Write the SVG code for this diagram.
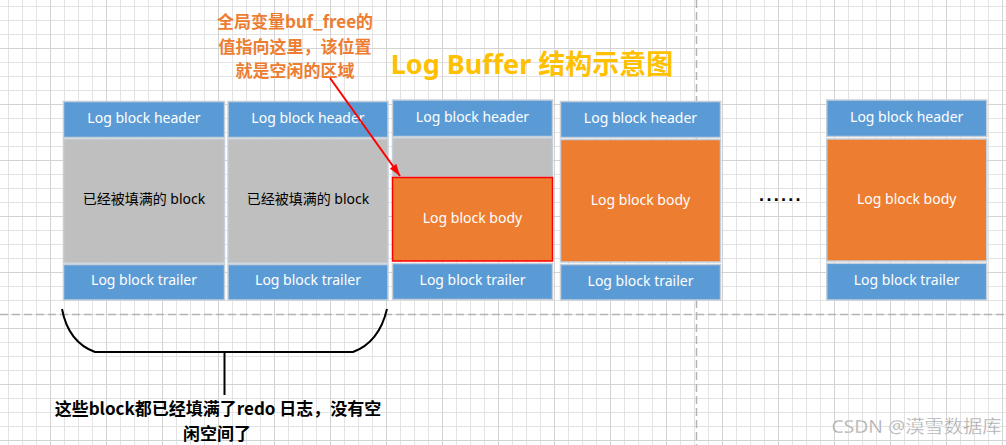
<svg xmlns="http://www.w3.org/2000/svg" width="1006" height="445" viewBox="0 0 1006 445">
<style>
.hdr{fill:#5b9bd5;stroke:#c6cfd9;stroke-width:1.5}
.gray{fill:#bfbfbf;stroke:#c6cfd9;stroke-width:1.5}
.org{fill:#ed7d31;stroke:#c6cfd9;stroke-width:1.5}
.lbl{font-family:"Noto Sans","Noto Sans CJK SC",sans-serif;font-size:14px;fill:#ffffff;text-anchor:middle}
.blk{font-family:"Noto Sans","Noto Sans CJK SC",sans-serif;font-size:14px;fill:#000000;text-anchor:middle}
.note{font-family:"Noto Sans CJK SC","Noto Sans",sans-serif;font-size:17px;font-weight:bold;fill:#ed7d31;text-anchor:middle}
.cap{font-family:"Noto Sans CJK SC","Noto Sans",sans-serif;font-size:17px;font-weight:bold;fill:#000000;text-anchor:middle}
.dash{stroke:#b4b4b4;stroke-width:1.5;stroke-dasharray:8 4;fill:none}
</style>
<defs>
<pattern id="minor" width="14" height="14" patternUnits="userSpaceOnUse" x="8" y="6">
<path d="M0.5 0V14M0 0.5H14" stroke="#e3e3e3" stroke-width="1" fill="none"/>
</pattern>
<pattern id="major" width="56" height="56" patternUnits="userSpaceOnUse" x="50" y="48">
<path d="M0.5 0V56M0 0.5H56" stroke="#d3d3d3" stroke-width="1" fill="none"/>
</pattern>
<marker id="arrow" viewBox="0 0 12 8" markerWidth="12" markerHeight="8" refX="12" refY="4" orient="auto" markerUnits="userSpaceOnUse">
<path d="M0 0L12 4L0 8z" fill="#ff0000"/>
</marker>
</defs>
<rect width="1006" height="445" fill="#ffffff"/>
<rect width="1006" height="445" fill="url(#minor)"/>
<rect width="1006" height="445" fill="url(#major)"/>
<path class="dash" d="M0 314.5H1006"/>
<path class="dash" d="M696.5 0V445"/>

<text x="532" y="74" style="font-family:'Noto Sans','Noto Sans CJK SC',sans-serif;font-size:27px;font-weight:bold;fill:#ffc000;text-anchor:middle">Log Buffer 结构示意图</text>

<g id="note">
<text class="note" x="295" y="28">全局变量buf_free的</text>
<text class="note" x="295" y="52.5">值指向这里，该位置</text>
<text class="note" x="295" y="77">就是空闲的区域</text>
</g>

<g id="block1">
<rect class="hdr" x="63.5" y="101.5" width="161" height="36"/>
<rect class="gray" x="63.5" y="139" width="161" height="124"/>
<rect class="hdr" x="63.5" y="264.5" width="161" height="35.5"/>
<text class="lbl" x="144" y="123">Log block header</text>
<text class="blk" x="144" y="204">已经被填满的 block</text>
<text class="lbl" x="144" y="285">Log block trailer</text>
</g>

<g id="block2">
<rect class="hdr" x="228" y="101.5" width="160" height="36"/>
<rect class="gray" x="228" y="139" width="160" height="124"/>
<rect class="hdr" x="228" y="264.5" width="160" height="35.5"/>
<text class="lbl" x="308" y="123">Log block header</text>
<text class="blk" x="308" y="204">已经被填满的 block</text>
<text class="lbl" x="308" y="285">Log block trailer</text>
</g>

<g id="block3">
<rect class="hdr" x="392.5" y="100" width="160" height="36.5"/>
<rect class="gray" x="392.5" y="138" width="160" height="39"/>
<rect x="392.5" y="177.5" width="160" height="83.5" fill="#ed7d31" stroke="#ff0000" stroke-width="1.5"/>
<rect class="hdr" x="392.5" y="263.5" width="160" height="36"/>
<text class="lbl" x="472.5" y="122">Log block header</text>
<text class="lbl" x="472.5" y="223">Log block body</text>
<text class="lbl" x="472.5" y="284.5">Log block trailer</text>
</g>

<g id="block4">
<rect class="hdr" x="560.5" y="101.5" width="160" height="36"/>
<rect class="org" x="560.5" y="139.5" width="160" height="122.5"/>
<rect class="hdr" x="560.5" y="264.5" width="160" height="35.5"/>
<text class="lbl" x="640.5" y="123">Log block header</text>
<text class="lbl" x="640.5" y="205">Log block body</text>
<text class="lbl" x="640.5" y="286">Log block trailer</text>
</g>

<g id="dots">
<text x="781" y="201" style="font-family:'Liberation Sans',sans-serif;font-size:18px;font-weight:bold;fill:#000000;text-anchor:middle;letter-spacing:2.3px">......</text>
</g>

<g id="block5">
<rect class="hdr" x="826.7" y="100" width="160" height="36.5"/>
<rect class="org" x="826.7" y="139" width="160" height="122"/>
<rect class="hdr" x="826.7" y="263.3" width="160" height="36.7"/>
<text class="lbl" x="906.7" y="122">Log block header</text>
<text class="lbl" x="906.7" y="204">Log block body</text>
<text class="lbl" x="906.7" y="285">Log block trailer</text>
</g>

<g id="connectors">
<path d="M330 78L400 176" stroke="#ff0000" stroke-width="2" fill="none" marker-end="url(#arrow)"/>
<path d="M62 309C66 330 76 345 95 352H353C372 345 382 330 387 309" stroke="#000000" stroke-width="2" fill="none"/>
<path d="M224.5 352V395" stroke="#000000" stroke-width="2" fill="none"/>
</g>

<g id="caption">
<text class="cap" x="218" y="415">这些block都已经填满了redo 日志，没有空</text>
<text class="cap" x="217" y="440">闲空间了</text>
</g>

<text x="916.5" y="433" textLength="170" lengthAdjust="spacingAndGlyphs" style="font-family:'Noto Sans','Noto Sans CJK SC',sans-serif;font-size:18px;fill:#a6a6a6;stroke:#ffffff;stroke-width:0.3;text-anchor:middle">CSDN @漠雪数据库</text>
</svg>
